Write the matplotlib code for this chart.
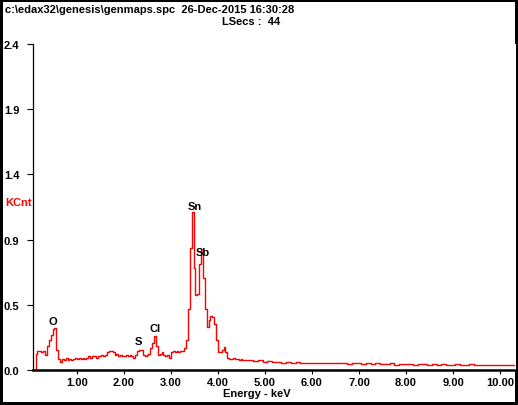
import numpy as np
import matplotlib
matplotlib.use("Agg")
import matplotlib.pyplot as plt

plt.rcParams['font.family'] = ['Liberation Sans', 'DejaVu Sans']
plt.rcParams['font.weight'] = 'bold'

# spectrum, fine part: channels every 0.04 keV starting at 0.10 keV
counts_fine = [
    0.00, 0.12, 0.14, 0.14, 0.13, 0.14, 0.11, 0.18, 0.22, 0.26,
    0.30, 0.31, 0.15, 0.08, 0.06, 0.08, 0.07, 0.09, 0.07, 0.08,
    0.07, 0.08, 0.09, 0.08, 0.09, 0.08, 0.09, 0.08, 0.09, 0.10,
    0.09, 0.10, 0.10, 0.09, 0.10, 0.10, 0.11, 0.10, 0.11, 0.13,
    0.14, 0.14, 0.13, 0.11, 0.12, 0.10, 0.11, 0.10, 0.10, 0.11,
    0.10, 0.11, 0.10, 0.09, 0.11, 0.14, 0.15, 0.15, 0.11, 0.10,
    0.11, 0.12, 0.16, 0.20, 0.25, 0.18, 0.11, 0.12, 0.13, 0.11,
    0.10, 0.11, 0.09, 0.13, 0.14, 0.13, 0.14, 0.13, 0.14, 0.14,
    0.16, 0.22, 0.45, 0.90, 1.16, 0.75, 0.55, 0.56, 0.78, 0.88,
    0.68, 0.45, 0.32, 0.37, 0.40, 0.39, 0.34, 0.22, 0.13, 0.13,
    0.15, 0.17, 0.13, 0.09, 0.08, 0.08, 0.09, 0.08, 0.08, 0.07,
    0.08, 0.07, 0.07, 0.07,
]
# tail, every 0.1 keV starting at 4.7 keV
counts_tail = [
    0.070, 0.065, 0.070, 0.060, 0.065, 0.060, 0.060, 0.055, 0.060, 0.055,
    0.060, 0.050, 0.055, 0.050, 0.055, 0.050, 0.055, 0.050, 0.050, 0.055,
    0.050, 0.045, 0.050, 0.050, 0.045, 0.050, 0.045, 0.050, 0.045, 0.045,
    0.050, 0.040, 0.045, 0.045, 0.045, 0.040, 0.045, 0.045, 0.040, 0.045,
    0.040, 0.045, 0.040, 0.040, 0.045, 0.040, 0.040, 0.045, 0.040, 0.040,
    0.040, 0.035, 0.040, 0.040, 0.035, 0.040, 0.035,
]
energy_fine = 0.10 + 0.04 * np.arange(len(counts_fine))
energy_tail = 4.70 + 0.10 * np.arange(len(counts_tail))
energy = np.concatenate([energy_fine, energy_tail])
counts = np.concatenate([counts_fine, counts_tail])

peak_names = ['O', 'S', 'Cl', 'Sn', 'Sb']
peak_x = [0.49, 2.30, 2.66, 3.51, 3.68]
peak_y = [0.36, 0.21, 0.31, 1.21, 0.87]

x_ticks = [1, 2, 3, 4, 5, 6, 7, 8, 9, 10]
y_ticks = [0.0, 0.48, 0.96, 1.44, 1.92, 2.4]
y_labels = ['0.0', '0.5', '0.9', '1.4', '1.9', '2.4']

W, H = 518, 406
fig = plt.figure(figsize=(W / 100, H / 100), dpi=100)
fig.patch.set_facecolor('white')
fig.patch.set_edgecolor('black')
fig.patch.set_linewidth(4.3)

ax = fig.add_axes([33 / W, (H - 371) / H, (516 - 33) / W, (371 - 45) / H])
ax.plot(energy, counts, color='red', lw=1.0, drawstyle='steps-mid')
ax.set_xlim(0.065, 10.34)
ax.set_ylim(0, 2.4)

for spine in ['top', 'right']:
    ax.spines[spine].set_visible(False)
ax.spines['left'].set_linewidth(0.9)
ax.spines['bottom'].set_linewidth(1.8)

ax.set_xticks(x_ticks)
ax.set_xticklabels(['%.2f' % v for v in x_ticks], fontsize=8, fontweight='bold')
ax.tick_params(axis='x', direction='out', length=3, width=0.8, pad=2)
ax.set_yticks(y_ticks)
ax.set_yticklabels(y_labels, fontsize=8, fontweight='bold', ha='left')
ax.tick_params(axis='y', direction='out', length=4.5, width=0.8, pad=16.5)

for name, px, py in zip(peak_names, peak_x, peak_y):
    ax.text(px, py, name, ha='center', va='center', fontsize=8, fontweight='bold')

fig.text(5 / W, 1 - 10 / H, 'c:\\edax32\\genesis\\genmaps.spc  26-Dec-2015 16:30:28',
         ha='left', va='center', fontsize=8, fontweight='bold')
fig.text(222 / W, 1 - 22 / H, 'LSecs :  44', ha='left', va='center',
         fontsize=8, fontweight='bold')
fig.text(5 / W, 1 - 203 / H, 'KCnt', ha='left', va='center', color='red',
         fontsize=8, fontweight='bold')
fig.text(257 / W, 1 - 394 / H, 'Energy - keV', ha='center', va='center',
         fontsize=8, fontweight='bold')

fig.savefig('out.png', dpi=100)
